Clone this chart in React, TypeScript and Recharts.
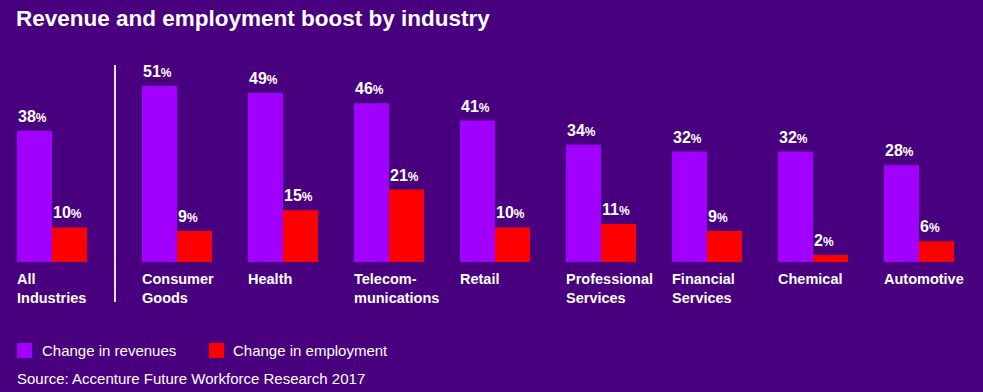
import React from "react"
import { BarChart, Bar, XAxis, YAxis, LabelList } from "recharts"

const categories = [
  "All|Industries",
  "Consumer|Goods",
  "Health",
  "Telecom-|munications",
  "Retail",
  "Professional|Services",
  "Financial|Services",
  "Chemical",
  "Automotive",
]
const revenues = [38, 51, 49, 46, 41, 34, 32, 32, 28]
const employment = [10, 9, 15, 21, 10, 11, 9, 2, 6]

const BG = "#48007F"
const PURPLE = "#A100FF"
const RED = "#FF0000"
const FONT = "'Liberation Sans', Arial, sans-serif"

const rows = categories.map((name, i) => ({
  name,
  revenue: revenues[i],
  employment: employment[i],
}))

const ValueLabel = (props: any) => {
  const { x, y, value } = props
  return (
    <text x={x + 1} y={y - 9} fill="#fff" fontFamily={FONT} fontWeight="bold">
      <tspan fontSize={16}>{value}</tspan>
      <tspan fontSize={12}>%</tspan>
    </text>
  )
}

const CategoryTick = (props: any) => {
  const { x, y, payload } = props
  const lines = String(payload.value).split("|")
  return (
    <text x={x - 35} y={y + 14} fill="#fff" fontFamily={FONT} fontWeight="bold" fontSize={14.5} textAnchor="start">
      {lines.map((l, i) => (
        <tspan key={i} x={x - 35} dy={i === 0 ? 0 : 19}>
          {l}
        </tspan>
      ))}
    </text>
  )
}

function Panel({ data, width, left }: { data: any[]; width: number; left: number }) {
  return (
    <div style={{ position: "absolute", left, top: 40 }}>
      <BarChart
        width={width}
        height={272}
        data={data}
        margin={{ top: 46, right: 0, left: 0, bottom: 0 }}
        barGap={0}
        barCategoryGap={0}
      >
        <XAxis dataKey="name" axisLine={false} tickLine={false} height={50} interval={0} tick={<CategoryTick />} />
        <YAxis hide domain={[0, 51]} />
        <Bar dataKey="revenue" fill={PURPLE} barSize={35} isAnimationActive={false}>
          <LabelList dataKey="revenue" content={<ValueLabel />} />
        </Bar>
        <Bar dataKey="employment" fill={RED} barSize={35} isAnimationActive={false}>
          <LabelList dataKey="employment" content={<ValueLabel />} />
        </Bar>
      </BarChart>
    </div>
  )
}

export default function App() {
  return (
    <div
      style={{
        position: "absolute",
        left: 0,
        top: 0,
        width: 983,
        height: 392,
        background: BG,
        overflow: "hidden",
        fontFamily: FONT,
        color: "#fff",
      }}
    >
      <div style={{ position: "absolute", left: 16, top: 6, fontSize: 22.5, fontWeight: 900, whiteSpace: "nowrap" }}>
        Revenue and employment boost by industry
      </div>

      <Panel data={rows.slice(0, 1)} width={104} left={0} />
      <Panel data={rows.slice(1)} width={848} left={124} />

      <div style={{ position: "absolute", left: 114, top: 65, width: 2, height: 237, background: "#e6e0ee" }} />

      <div style={{ position: "absolute", left: 17, top: 343, width: 15, height: 15, background: PURPLE }} />
      <div style={{ position: "absolute", left: 42, top: 342, fontSize: 15, whiteSpace: "nowrap" }}>Change in revenues</div>
      <div style={{ position: "absolute", left: 209, top: 343, width: 15, height: 15, background: RED }} />
      <div style={{ position: "absolute", left: 233, top: 342, fontSize: 15, whiteSpace: "nowrap" }}>Change in employment</div>
      <div style={{ position: "absolute", left: 17, top: 370, fontSize: 15, whiteSpace: "nowrap" }}>
        Source: Accenture Future Workforce Research 2017
      </div>
    </div>
  )
}
